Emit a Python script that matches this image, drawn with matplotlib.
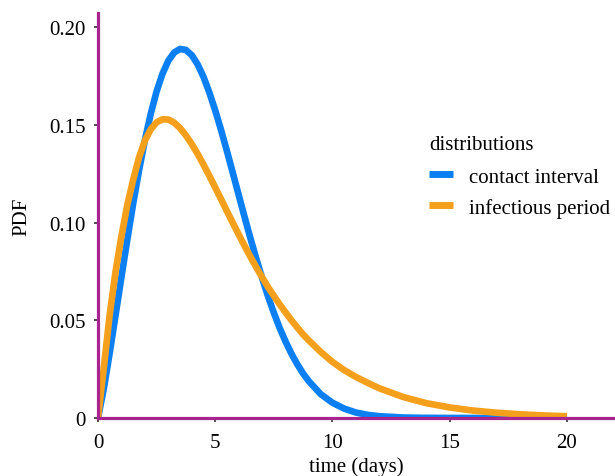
import matplotlib
matplotlib.use("Agg")
import matplotlib.pyplot as plt

# data
time_days = [0, 0.25, 0.5, 0.75, 1.0, 1.25, 1.5, 1.75, 2.0, 2.25, 2.5, 2.75,
             3.0, 3.25, 3.5, 3.75, 4.0, 4.25, 4.5, 4.75, 5.0, 5.25, 5.5, 5.75,
             6.0, 6.25, 6.5, 6.75, 7.0, 7.25, 7.5, 7.75, 8.0, 8.25, 8.5, 8.75,
             9.0, 9.5, 10.0, 10.5, 11.0, 11.5, 12.0, 13.0, 14.0, 15.0, 16.0,
             17.0, 18.0, 19.0, 20.0]
contact_interval = [0.0, 0.0152, 0.0334, 0.0527, 0.0722, 0.0913, 0.1097,
                    0.1267, 0.1421, 0.1557, 0.1671, 0.1761, 0.1828, 0.1870,
                    0.1888, 0.1883, 0.1856, 0.1809, 0.1745, 0.1665, 0.1573,
                    0.1473, 0.1365, 0.1254, 0.1141, 0.1029, 0.0920, 0.0815,
                    0.0716, 0.0623, 0.0538, 0.0460, 0.0391, 0.0329, 0.0275,
                    0.0227, 0.0187, 0.0122, 0.0078, 0.0048, 0.0028, 0.0016,
                    0.0009, 0.00025, 0.00006, 0.00001, 0.0, 0.0, 0.0, 0.0, 0.0]
infectious_period = [0.0, 0.026, 0.053, 0.075, 0.093, 0.109, 0.1219, 0.1333,
                     0.1419, 0.1477, 0.1513, 0.1528, 0.1527, 0.1511, 0.1483,
                     0.1446, 0.1401, 0.1351, 0.1296, 0.1239, 0.1179, 0.1119,
                     0.1058, 0.0998, 0.0939, 0.0881, 0.0825, 0.0771, 0.0720,
                     0.0670, 0.0625, 0.0581, 0.0540, 0.0500, 0.0463, 0.0427,
                     0.0396, 0.0338, 0.0287, 0.0245, 0.0210, 0.0180, 0.0152,
                     0.0108, 0.0076, 0.0054, 0.0038, 0.0027, 0.0019, 0.0013,
                     0.0009]
series_labels = ["contact interval", "infectious period"]
x_ticks = [0, 5, 10, 15, 20]
y_ticks = [0, 0.05, 0.10, 0.15, 0.20]
y_tick_labels = ["0", "0.05", "0.10", "0.15", "0.20"]

plt.rcParams['font.family'] = ['Liberation Serif', 'DejaVu Serif']

fig = plt.figure(figsize=(6.15, 4.77), dpi=100)
ax = fig.add_axes([98 / 615, 58 / 477, 517 / 615, 405 / 477])

blue = "#0c80f3"
orange = "#f5a01c"
magenta = "#a8248f"

ax.plot(time_days, contact_interval, color=blue, lw=4.8,
        solid_capstyle='butt', solid_joinstyle='round', label=series_labels[0])
ax.plot(time_days, infectious_period, color=orange, lw=4.8,
        solid_capstyle='butt', solid_joinstyle='round', label=series_labels[1])

ax.set_xlim(0, 22.05)
ax.set_ylim(0, 0.2072)
ax.set_xticks(x_ticks)
ax.set_xticklabels([str(t) for t in x_ticks])
ax.set_yticks(y_ticks)
ax.set_yticklabels(y_tick_labels)

for s in ["top", "right"]:
    ax.spines[s].set_visible(False)
for s in ["left", "bottom"]:
    ax.spines[s].set_color(magenta)
    ax.spines[s].set_linewidth(2.3)
    ax.spines[s].set_zorder(5)

ax.tick_params(axis='both', direction='out', length=3, width=1.2,
               color='#333333', labelsize=15, pad=6)
ax.tick_params(axis='x', pad=8)

ax.set_xlabel("time (days)", fontsize=15, labelpad=3)
ax.set_ylabel("PDF", fontsize=15, labelpad=13)

leg = ax.legend(title="distributions", loc='upper left',
                bbox_to_anchor=(410 / 615, 1 - 117 / 477),
                bbox_transform=fig.transFigure, frameon=False,
                fontsize=15, title_fontsize=15, handlelength=1.15,
                handletextpad=0.77, labelspacing=0.54)
leg._legend_box.align = "left"
leg._legend_box.sep = 9.5
for line in leg.get_lines():
    line.set_linewidth(5)

fig.savefig("out.png", dpi=100)
